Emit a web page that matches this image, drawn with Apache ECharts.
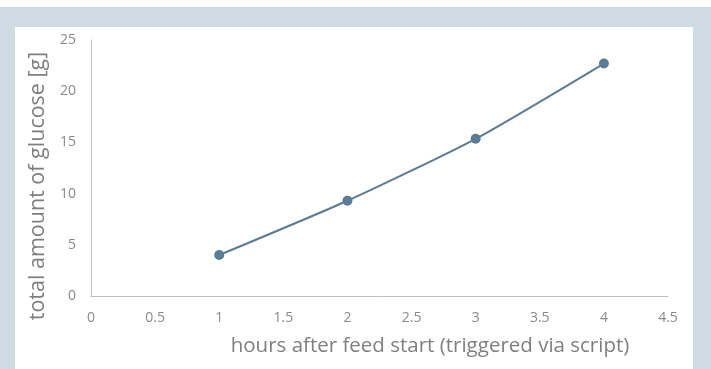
<!DOCTYPE html>
<html>
<head>
<meta charset="utf-8">
<script src="https://cdn.jsdelivr.net/npm/echarts@6/dist/echarts.min.js"></script>
<style>
html,body{margin:0;padding:0;background:#fff;}
#bg{position:absolute;left:0;top:7px;width:711px;height:362px;background:#cfdbe3;}
#panel{position:absolute;left:15px;top:27px;width:678px;height:342px;background:#fff;}
#chart{position:absolute;left:0;top:0;width:711px;height:369px;}
</style>
</head>
<body>
<div id="bg"></div>
<div id="panel"></div>
<div id="chart"></div>
<script>
var hours = [1, 2, 3, 4];
var glucose = [4.0, 9.3, 15.35, 22.7];
var xName = 'hours after feed start (triggered via script)';
var yName = 'total amount of glucose [g]';

var chart = echarts.init(document.getElementById('chart'), null, {renderer: 'canvas'});
var font = 'Open Sans';
chart.setOption({
  animation: false,
  backgroundColor: 'transparent',
  grid: {left: 91, right: 43, top: 40, bottom: 73},
  xAxis: {
    type: 'value', min: 0, max: 4.5, interval: 0.5,
    name: xName, nameLocation: 'middle', nameGap: 40,
    nameTextStyle: {color: '#7f7f7f', fontSize: 20.5, fontFamily: font, padding: [0, 0, 0, 101]},
    axisLine: {show: true, lineStyle: {color: '#bfbfbf', width: 1}},
    axisTick: {show: false},
    splitLine: {show: false},
    axisLabel: {color: '#8a8a8a', fontSize: 14, fontFamily: font, margin: 15}
  },
  yAxis: {
    type: 'value', min: 0, max: 25, interval: 5,
    name: yName, nameLocation: 'middle', nameGap: 39,
    nameTextStyle: {color: '#7f7f7f', fontSize: 21.5, fontFamily: font, padding: [0, 36, 0, 0]},
    axisLine: {show: true, lineStyle: {color: '#bfbfbf', width: 1}},
    axisTick: {show: false},
    splitLine: {show: false},
    axisLabel: {color: '#8a8a8a', fontSize: 14, fontFamily: font, margin: 15}
  },
  series: [{
    type: 'line',
    data: hours.map(function (h, i) { return [h, glucose[i]]; }),
    smooth: 0.2,
    symbol: 'circle', symbolSize: 10,
    itemStyle: {color: '#5b7c97'},
    lineStyle: {color: '#5b7c97', width: 2}
  }]
});
</script>
</body>
</html>
